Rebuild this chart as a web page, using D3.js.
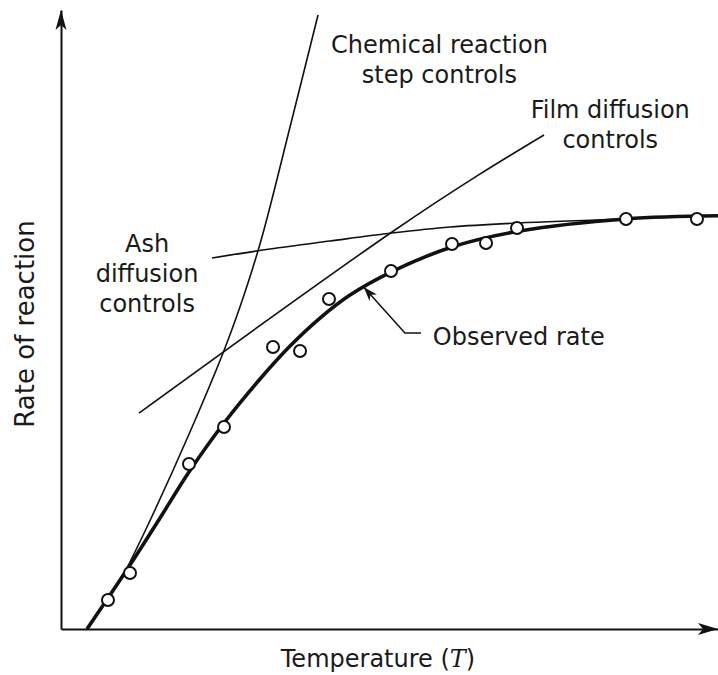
<!DOCTYPE html>
<html>
<head>
<meta charset="utf-8">
<script src="https://cdn.jsdelivr.net/npm/d3@7"></script>
<style>
  html, body { margin: 0; padding: 0; background: #fff; }
  svg { display: block; }
  text { font-family: "DejaVu Sans", sans-serif; fill: #1a1a1a; }
</style>
</head>
<body>
<div id="chart"></div>
<script>
// ---- Data (arbitrary units, 0..100 on both axes) ----
const observedPoints = [
  [7.15, 4.68], [10.50, 9.05], [19.48, 26.66], [24.81, 32.63],
  [32.27, 45.56], [36.38, 44.91], [40.79, 53.31], [50.23, 57.84],
  [59.51, 62.20], [64.69, 62.36], [69.41, 64.78], [86.00, 66.24], [96.80, 66.24]
];
const observedCurve = [
  [3.96, 0], [10.50, 10.34], [15.07, 17.93], [19.48, 25.36], [24.81, 33.28],
  [30.29, 40.39], [34.86, 45.72], [39.42, 50.24], [43.99, 53.96], [50.23, 57.67],
  [59.51, 61.71], [69.86, 64.30], [86.00, 66.24], [100, 66.75]
];
const chemicalCurve = [
  [9.74, 9.21], [13.09, 16.48], [19.63, 31.83], [24.96, 45.40],
  [28.01, 54.44], [30.59, 63.33], [34.86, 81.10], [39.12, 99.19]
];
const filmCurve = [
  [11.87, 34.89], [50.38, 64.14], [73.52, 79.81]
];
const ashCurve = [
  [22.98, 59.94], [31.81, 61.39], [40.94, 62.68], [50.38, 63.97],
  [59.21, 64.94], [69.56, 65.59], [86.00, 66.24]
];
const xLabel = "Temperature";
const yLabel = "Rate of reaction";
const labels = [
  { lines: ["Chemical reaction", "step controls"], x: 57.6, y: 93.1 },
  { lines: ["Film diffusion", "controls"], x: 83.6, y: 82.6 },
  { lines: ["Ash", "diffusion", "controls"], x: 13.1, y: 60.9 }
];
const observedLabel = { text: "Observed rate", tip: [46.1, 55.2], elbow: [52.35, 47.8], end: [54.8, 47.8], tx: 56.6, ty: 45.9 };

// ---- Layout ----
const W = 718, H = 675;
const svg = d3.select("#chart").append("svg").attr("width", W).attr("height", H);

const x = d3.scaleLinear().domain([0, 100]).range([61, 718]);
const y = d3.scaleLinear().domain([0, 100]).range([629, 10]);

// axes (no ticks)
svg.append("g").attr("transform", `translate(0,${y(0)})`)
  .call(d3.axisBottom(x).tickValues([]).tickSizeOuter(0))
  .call(g => g.select(".domain").attr("stroke", "#111").attr("stroke-width", 2));
svg.append("g").attr("transform", `translate(${x(0)},0)`)
  .call(d3.axisLeft(y).tickValues([]).tickSizeOuter(0))
  .call(g => g.select(".domain").attr("stroke", "#111").attr("stroke-width", 2));

// arrowheads
const x0 = x(0), y0 = y(0), yTop = y(100), xEnd = x(100);
svg.append("path")
  .attr("d", `M${x0},${yTop} L${x0 - 5.5},${yTop + 20} L${x0},${yTop + 15} L${x0 + 5.5},${yTop + 20} Z`)
  .attr("fill", "#111");
svg.append("path")
  .attr("d", `M${xEnd},${y0} L${xEnd - 20},${y0 - 6} L${xEnd - 15},${y0} L${xEnd - 20},${y0 + 6} Z`)
  .attr("fill", "#111");

const smooth = d3.line().x(d => x(d[0])).y(d => y(d[1])).curve(d3.curveCatmullRom.alpha(0.5));
const natural = d3.line().x(d => x(d[0])).y(d => y(d[1])).curve(d3.curveNatural);

// thin controlling-regime curves
svg.append("path").attr("d", smooth(chemicalCurve))
  .attr("fill", "none").attr("stroke", "#111").attr("stroke-width", 1.6);
svg.append("path").attr("d", natural(filmCurve))
  .attr("fill", "none").attr("stroke", "#111").attr("stroke-width", 1.6);
svg.append("path").attr("d", smooth(ashCurve))
  .attr("fill", "none").attr("stroke", "#111").attr("stroke-width", 1.6);

// observed thick curve
svg.append("path").attr("d", smooth(observedCurve))
  .attr("fill", "none").attr("stroke", "#111").attr("stroke-width", 3.6)
  .attr("stroke-linejoin", "round");

// observed points
svg.append("g").selectAll("circle").data(observedPoints).join("circle")
  .attr("cx", d => x(d[0])).attr("cy", d => y(d[1])).attr("r", 6)
  .attr("fill", "#fff").attr("stroke", "#111").attr("stroke-width", 2);

// observed rate annotation
const o = observedLabel;
svg.append("path")
  .attr("d", `M${x(o.end[0])},${y(o.end[1])} L${x(o.elbow[0])},${y(o.elbow[1])} L${x(o.tip[0])},${y(o.tip[1])}`)
  .attr("fill", "none").attr("stroke", "#111").attr("stroke-width", 1.5);
{
  const tx = x(o.tip[0]), ty = y(o.tip[1]);
  const ang = Math.atan2(y(o.elbow[1]) - ty, x(o.elbow[0]) - tx);
  const len = 14, half = 5;
  const bx = tx + len * Math.cos(ang), by = ty + len * Math.sin(ang);
  const px = -Math.sin(ang), py = Math.cos(ang);
  const nx = tx + (len - 4) * Math.cos(ang), ny = ty + (len - 4) * Math.sin(ang);
  svg.append("path")
    .attr("d", `M${tx},${ty} L${bx + px * half},${by + py * half} L${nx},${ny} L${bx - px * half},${by - py * half} Z`)
    .attr("fill", "#111");
}
svg.append("text").attr("x", x(o.tx)).attr("y", y(o.ty))
  .attr("font-size", 24).text(o.text);

// multi-line labels
labels.forEach(l => {
  const t = svg.append("text").attr("x", x(l.x)).attr("y", y(l.y))
    .attr("text-anchor", "middle").attr("font-size", 24);
  l.lines.forEach((s, i) => {
    t.append("tspan").attr("x", x(l.x)).attr("dy", i === 0 ? 0 : 30).text(s);
  });
});

// axis titles
const xt = svg.append("text").attr("x", 378).attr("y", 667)
  .attr("text-anchor", "middle").attr("font-size", 24);
xt.append("tspan").text(xLabel + " (");
xt.append("tspan").attr("font-family", "'DejaVu Serif', serif").attr("font-style", "italic").text("T");
xt.append("tspan").text(")");

svg.append("text")
  .attr("transform", "translate(34,324) rotate(-90)")
  .attr("text-anchor", "middle").attr("font-size", 26).text(yLabel);
</script>
</body>
</html>
